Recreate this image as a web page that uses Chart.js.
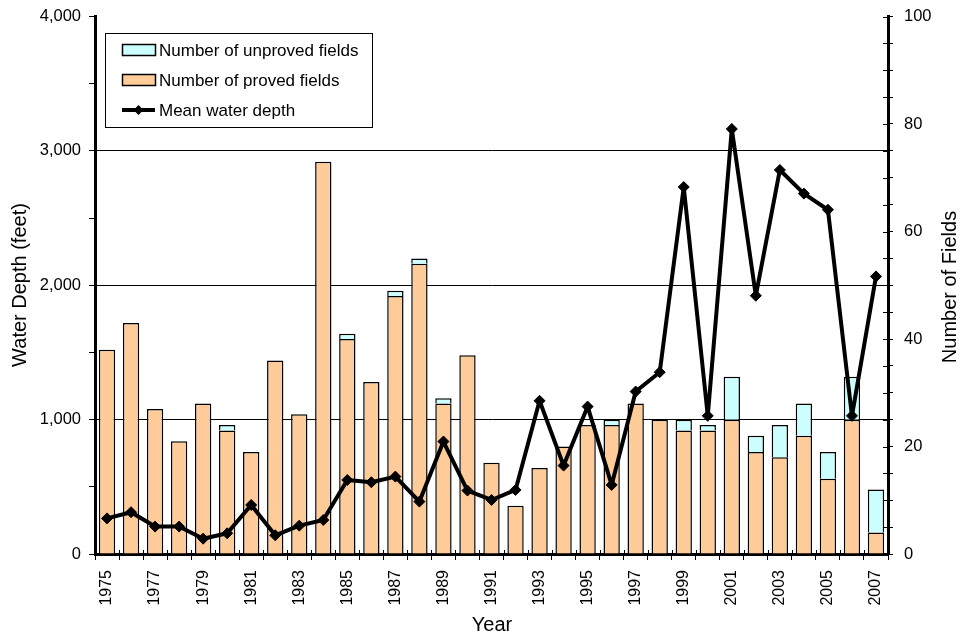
<!DOCTYPE html>
<html>
<head>
<meta charset="utf-8">
<script src="https://cdn.jsdelivr.net/npm/chart.js@4"></script>
<style>
  html, body { margin: 0; padding: 0; background: #fff; }
  #wrap { width: 963px; height: 637px; position: relative; }
</style>
</head>
<body>
<div id="wrap"><canvas id="depthChart"></canvas></div>
<script>
  // data
  const years = [];
  for (let y = 1975; y <= 2007; y++) years.push(String(y));

  const provedFields = [38, 43, 27, 21, 28, 23, 19, 36, 26, 73, 40, 32, 48, 54, 28, 37, 17, 9, 16, 20, 24, 24, 28, 25, 23, 23, 25, 19, 18, 22, 14, 25, 4];
  const unprovedFields = [0, 0, 0, 0, 0, 1, 0, 0, 0, 0, 1, 0, 1, 1, 1, 0, 0, 0, 0, 0, 0, 1, 0, 0, 2, 1, 8, 3, 6, 6, 5, 8, 8];
  const meanDepth = [265, 311, 204, 204, 114, 154, 365, 139, 211, 253, 551, 534, 576, 390, 837, 472, 402, 477, 1140, 658, 1097, 514, 1209, 1353, 2731, 1028, 3163, 1922, 2858, 2682, 2562, 1028, 2066];

  const depthTicks = { min: 0, max: 4000, step: 500, label: 1000 };
  const fieldTicks = { min: 0, max: 100, step: 5, label: 20 };

  const FONT = "'Liberation Sans', Arial, sans-serif";
  const colors = { proved: "#FFCC99", unproved: "#CCFFFF", ink: "#000000" };

  // inner half of the tick marks (reference ticks cross the axis)
  const crossTicks = {
    id: "crossTicks",
    afterDatasetsDraw(chart) {
      const ctx = chart.ctx;
      const area = chart.chartArea;
      const x = chart.scales.x, r = chart.scales.y1;
      ctx.save();
      ctx.strokeStyle = colors.ink;
      ctx.lineWidth = 1;
      ctx.beginPath();
      r.ticks.forEach(t => {
        const py = Math.round(r.getPixelForValue(t.value)) + 0.5;
        ctx.moveTo(area.right - 5, py);
        ctx.lineTo(area.right, py);
      });
      for (let i = 0; i <= years.length; i++) {
        const px = Math.round(x.getPixelForValue(i - 0.5)) + 0.5;
        ctx.moveTo(px, area.bottom - 4);
        ctx.lineTo(px, area.bottom);
      }
      ctx.stroke();
      ctx.restore();
    }
  };

  // axis titles and the boxed legend
  const decorations = {
    id: "decorations",
    afterDraw(chart) {
      const ctx = chart.ctx;
      ctx.save();
      ctx.fillStyle = colors.ink;
      ctx.font = "20px " + FONT;
      ctx.textAlign = "center";
      ctx.textBaseline = "middle";

      ctx.save();
      ctx.translate(20, 285);
      ctx.rotate(-Math.PI / 2);
      ctx.fillText("Water Depth (feet)", 0, 0);
      ctx.restore();

      ctx.save();
      ctx.translate(950, 287);
      ctx.rotate(-Math.PI / 2);
      ctx.fillText("Number of Fields", 0, 0);
      ctx.restore();

      ctx.fillText("Year", 492, 625);

      // legend
      ctx.fillStyle = "#fff";
      ctx.fillRect(105.5, 33.5, 267, 94);
      ctx.strokeStyle = colors.ink;
      ctx.lineWidth = 1;
      ctx.strokeRect(105.5, 33.5, 267, 94);

      ctx.font = "17px " + FONT;
      ctx.textAlign = "left";
      const items = [
        { label: "Number of unproved fields", fill: colors.unproved },
        { label: "Number of proved fields", fill: colors.proved },
        { label: "Mean water depth", line: true }
      ];
      items.forEach((it, i) => {
        const cy = 50 + i * 30;
        if (it.line) {
          ctx.lineWidth = 4;
          ctx.beginPath();
          ctx.moveTo(122, cy);
          ctx.lineTo(155, cy);
          ctx.stroke();
          ctx.fillStyle = colors.ink;
          ctx.beginPath();
          ctx.moveTo(138.5, cy - 5);
          ctx.lineTo(143.5, cy);
          ctx.lineTo(138.5, cy + 5);
          ctx.lineTo(133.5, cy);
          ctx.closePath();
          ctx.fill();
        } else {
          ctx.fillStyle = it.fill;
          ctx.fillRect(122.5, cy - 5.5, 33, 11);
          ctx.lineWidth = 1.5;
          ctx.strokeRect(122.5, cy - 5.5, 33, 11);
        }
        ctx.fillStyle = colors.ink;
        ctx.fillText(it.label, 159, cy + 1);
      });
      ctx.restore();
    }
  };

  function fixVertical(width) {
    return s => { s.width = width; s.paddingTop = 0; s.paddingBottom = 0; };
  }

  new Chart(document.getElementById("depthChart"), {
    data: {
      labels: years,
      datasets: [
        {
          type: "line", label: "Mean water depth", data: meanDepth, yAxisID: "y",
          borderColor: colors.ink, borderWidth: 4, tension: 0,
          borderJoinStyle: "round", borderCapStyle: "round",
          pointStyle: "rectRot", pointRadius: 5.5, pointBackgroundColor: colors.ink,
          pointBorderColor: colors.ink, pointBorderWidth: 1, order: 0
        },
        {
          type: "bar", label: "Number of proved fields", data: provedFields, yAxisID: "y1",
          backgroundColor: colors.proved, borderColor: colors.ink, borderWidth: 1.5,
          borderSkipped: "bottom", stack: "fields", order: 1
        },
        {
          type: "bar", label: "Number of unproved fields", data: unprovedFields, yAxisID: "y1",
          backgroundColor: colors.unproved, borderColor: colors.ink, borderWidth: 1.5,
          borderSkipped: "bottom", stack: "fields", order: 1
        }
      ]
    },
    options: {
      responsive: true,
      maintainAspectRatio: false,
      animation: false,
      layout: { padding: { top: 16.5, left: 0, right: 0, bottom: 0 } },
      datasets: { bar: { categoryPercentage: 1, barPercentage: 0.68 } },
      plugins: { legend: { display: false }, tooltip: { enabled: false } },
      scales: {
        x: {
          stacked: true,
          offset: true,
          afterFit: s => { s.height = 83; s.paddingLeft = 0; s.paddingRight = 0; },
          border: { display: true, color: colors.ink, width: 3 },
          grid: { drawOnChartArea: false, offset: true, tickLength: 6, tickColor: colors.ink, tickWidth: 1 },
          ticks: {
            autoSkip: false, maxRotation: 90, minRotation: 90, padding: 10,
            color: colors.ink, font: { family: FONT, size: 16 },
            callback: (v, i) => (i % 2 === 0 ? years[i] : "")
          }
        },
        y: {
          position: "left",
          min: depthTicks.min, max: depthTicks.max,
          afterFit: fixVertical(95),
          border: { display: true, color: colors.ink, width: 3 },
          grid: {
            color: c => (c.tick && c.tick.value % 1000 === 0 && c.tick.value > 0 && c.tick.value < 4000 ? colors.ink : "rgba(0,0,0,0)"),
            lineWidth: 1, tickLength: 6, tickColor: colors.ink, tickWidth: 1
          },
          ticks: {
            stepSize: depthTicks.step, padding: 8, color: colors.ink,
            font: { family: FONT, size: 16.5 },
            callback: v => (v % depthTicks.label === 0 ? v.toLocaleString("en-US") : "")
          }
        },
        y1: {
          position: "right",
          stacked: true,
          min: fieldTicks.min, max: fieldTicks.max,
          afterFit: fixVertical(75),
          border: { display: true, color: colors.ink, width: 3 },
          grid: { drawOnChartArea: false, tickLength: 5, tickColor: colors.ink, tickWidth: 1 },
          ticks: {
            stepSize: fieldTicks.step, padding: 11, color: colors.ink,
            font: { family: FONT, size: 16.5 },
            callback: v => (v % fieldTicks.label === 0 ? String(v) : "")
          }
        }
      }
    },
    plugins: [crossTicks, decorations]
  });
</script>
</body>
</html>
